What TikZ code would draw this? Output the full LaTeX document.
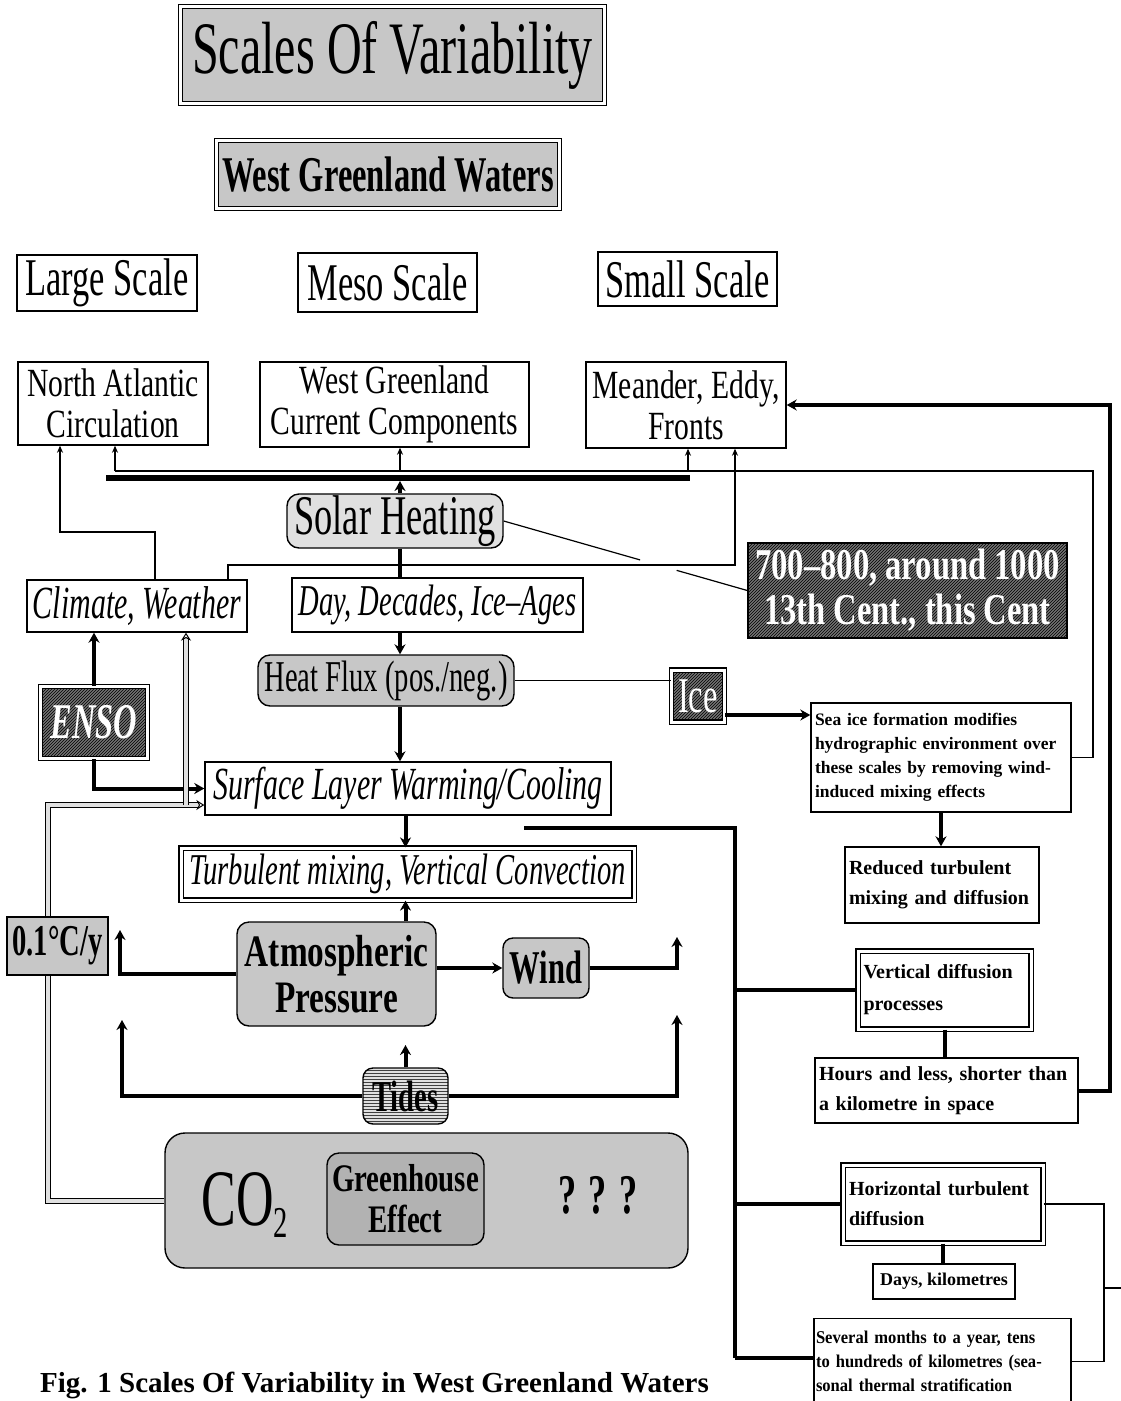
\documentclass[tikz,border=0pt]{standalone}
\usepackage{fontspec}
\setmainfont{Liberation Serif}
\newfontfamily\cf[FakeStretch=0.65]{Liberation Serif}
\newfontfamily\cg[FakeStretch=0.74]{Liberation Serif}
\newfontfamily\rf{Liberation Serif}
\newfontfamily\rh[FakeStretch=0.92]{Liberation Serif}
\usetikzlibrary{arrows.meta,patterns}
\newcommand\fsz[2]{\fontsize{#1}{#2}\selectfont}
\tikzset{
  box/.style={draw, line width=1.4pt, inner sep=0pt, align=center},
  dotbox/.style={box, fill=black!22},
  rbox/.style={dotbox, rounded corners=12pt},
  dbl/.style={draw, line width=1.2pt, double=white, double distance=3pt, inner sep=0pt, align=center},
  hatch/.style={preaction={fill=black!55}, pattern=north east lines, pattern color=black},
  thk/.style={line width=4pt},
  thkarr/.style={thk, -{Stealth[length=10pt,width=11pt]}},
  thn/.style={line width=1.2pt},
  thnarr/.style={thn, -{Stealth[length=7pt,width=6pt]}},
  pipe/.style={draw=black, line width=1pt, double=black!12, double distance=4pt},
  pipearr/.style={pipe, -{Stealth[length=8pt,width=10pt,open]}},
  bar/.style={line width=6pt},
  rtext/.style={align=left}
}
\begin{document}
\begin{tikzpicture}[x=1pt,y=-1pt]
\fill[white] (0,0) rectangle (1120,1401);
\useasboundingbox (0,0) rectangle (1120,1401);

% ---- titles
\node[dbl, fill=black!22, minimum width=424, minimum height=97, font=\cf\fsz{74}{74}] (title) at (392.5,55) {Scales Of Variability};
\node[dbl, fill=black!22, minimum width=343, minimum height=68, font=\cf\bfseries\fsz{50}{50}] (wgw) at (388,174.5) {West Greenland Waters};

\node[box, minimum width=180, minimum height=56, font=\cf\fsz{53}{53}] (large) at (107,283) {Large Scale};
\node[box, minimum width=179, minimum height=59, font=\cf\fsz{53}{53}] (meso) at (387.5,282.5) {Meso Scale};
\node[box, minimum width=179, minimum height=54, font=\cf\fsz{53}{53}] (small) at (687.5,279) {Small Scale};

% ---- scale boxes
\node[box, minimum width=190, minimum height=83, font=\cg\fsz{40}{41}] (na) at (113,403.5) {North Atlantic\\Circulation};
\node[box, minimum width=269, minimum height=85, font=\cg\fsz{40}{41}] (wgc) at (394.5,404.5) {West Greenland\\Current Components};
\node[box, minimum width=200, minimum height=86, font=\cg\fsz{40}{41}] (mef) at (686,405) {Meander, Eddy,\\Fronts};

% ---- middle column
\node[box, rounded corners=12pt, fill=black!12, minimum width=216, minimum height=54, font=\cf\fsz{56}{56}] (solar) at (395,521) {Solar Heating};
\node[box, minimum width=220, minimum height=52, font=\cf\itshape\fsz{46}{46}] (climate) at (137,606) {Climate, Weather};
\node[box, minimum width=291, minimum height=54, font=\cf\itshape\fsz{44}{44}] (day) at (437.5,605) {Day, Decades, Ice–Ages};
\node[box, hatch, minimum width=319, minimum height=95, text=white, font=\cg\bfseries\fsz{44}{45}] (cent) at (907.5,590.5) {700–800, around 1000\\13th Cent., this Cent};
\node[rbox, minimum width=256, minimum height=51, font=\cf\fsz{44}{44}] (heat) at (386,680.5) {Heat Flux (pos./neg.)};
\node[dbl, hatch, minimum width=53, minimum height=52, text=white, font=\cf\fsz{50}{50}] (ice) at (698,696) {Ice};
\node[dbl, hatch, minimum width=107, minimum height=72, text=white, font=\cf\bfseries\itshape\fsz{50}{50}] (enso) at (94,722.5) {ENSO};
\node[box, minimum width=260, minimum height=109, text width=252, rtext, font=\rf\bfseries\fsz{17.5}{24}] (seaice) at (941,757.5) {Sea ice formation modifies\\hydrographic environment over\\these scales by removing wind-\\induced mixing effects};
\node[box, minimum width=406, minimum height=53, font=\cf\itshape\fsz{46}{46}] (surface) at (408,788.5) {Surface Layer Warming/Cooling};
\node[dbl, minimum width=453, minimum height=52, font=\cf\itshape\fsz{44}{44}] (turb) at (407.5,874) {Turbulent mixing, Vertical Convection};
\node[box, minimum width=194, minimum height=76, text width=186, rtext, font=\rf\bfseries\fsz{20}{30}] (reduced) at (942,885) {Reduced turbulent\\mixing and diffusion};
\node[rbox, minimum width=199, minimum height=104, font=\cg\bfseries\fsz{45}{46}] (atmos) at (336.5,974) {Atmospheric\\Pressure};
\node[rbox, rounded corners=10pt, minimum width=86, minimum height=60, font=\cf\bfseries\fsz{47}{47}] (wind) at (546,968) {Wind};
\node[dbl, minimum width=173, minimum height=78, text width=162, rtext, font=\rf\bfseries\fsz{20}{32}] (vdiff) at (944.5,990) {Vertical diffusion\\processes};
\node[box, minimum width=263, minimum height=65, text width=255, rtext, font=\rf\bfseries\fsz{20}{30}] (hours) at (946.5,1090.5) {Hours and less, shorter than\\a kilometre in space};
\node[box, rounded corners=10pt, preaction={fill=black!12}, pattern=horizontal lines, pattern color=black!75, minimum width=85, minimum height=56, font=\cf\bfseries\fsz{44}{44}] (tides) at (405.5,1096) {Tides};
\node[rbox, rounded corners=20pt, minimum width=523, minimum height=135] (co2box) at (426.5,1200.5) {};
\node[font=\cf\fsz{80}{80}] (co2) at (245,1205) {CO\raisebox{-0.35ex}{\fsz{44}{44}2}};
\node[rbox, fill=black!30, minimum width=157, minimum height=92, font=\cg\bfseries\fsz{39}{41}] (ghe) at (405.5,1199) {Greenhouse\\Effect};
\node[font=\cf\bfseries\fsz{56}{56}] (qqq) at (598,1195) {? ? ?};
\node[dbl, minimum width=200, minimum height=78, text width=188, rtext, font=\rf\bfseries\fsz{20}{30}] (hdiff) at (943,1204) {Horizontal turbulent\\diffusion};
\node[box, minimum width=142, minimum height=35, font=\rf\bfseries\fsz{18}{18}] (days) at (944,1281.5) {Days, kilometres};
\node[box, anchor=north, minimum width=257, minimum height=86, text width=253, rtext, font=\rh\bfseries\fsz{18}{24}] (sev) at (942.5,1318) {Several months to a year, tens\\to hundreds of kilometres (sea-\\sonal thermal stratification};

% ---- coordinates
\coordinate (jL) at (115,471);
\coordinate (jW) at (400,471);
\coordinate (jM) at (688,471);
\coordinate (jR) at (1093,471);
\coordinate (barL) at (106,478);
\coordinate (barR) at (690,478);
\coordinate (bW) at (400,481);
\coordinate (c1) at (155,532);
\coordinate (k60) at (60,532);
\coordinate (c2) at (228,565);
\coordinate (c3) at (735,565);
\coordinate (iaY) at (800,715);
\coordinate (px) at (48,805);
\coordinate (q186) at (186,805);
\coordinate (aL) at (120,930);
\coordinate (aR) at (677,937);
\coordinate (tL) at (122,1020);
\coordinate (tR) at (677,1015);
\coordinate (tA) at (405.5,1045);
\coordinate (s0) at (524,828);
\coordinate (s1) at (735,828);
\coordinate (sevY) at (735,1358);
\coordinate (rX) at (1110,0);
\coordinate (hX) at (1104,1288);
\coordinate (edge) at (1125,1288);

% ---- top connectors
\draw[bar] (barL) -- (barR);
\draw[thn] (seaice.east) -| (jR) -- (jL);
\draw[thnarr] (jL) -- (jL |- na.south);
\draw[thnarr] (jW) -- (jW |- wgc.south);
\draw[thnarr] (jM) -- (jM |- mef.south);
\draw[thkarr] (solar.north -| jW) -- (bW);
\draw[thnarr] (climate.north -| c1) -- (c1) -- (k60) -- (k60 |- na.south);
\draw[thnarr] (climate.north -| c2) -- (c2) -- (c3) -- (c3 |- mef.south);
\path (solar.east) -- (cent.west) coordinate[pos=0.56] (g1) coordinate[pos=0.71] (g2);
\draw[thn] (solar.east) -- (g1);
\draw[thn] (g2) -- (cent.west);

% ---- central chain
\draw[thk] (solar.south -| jW) -- (day.north -| jW);
\draw[thkarr] (day.south -| jW) -- (heat.north -| jW);
\draw[thkarr] (heat.south -| jW) -- (surface.north -| jW);
\draw[thkarr] (surface.south -| tA) -- (turb.north -| tA);
\draw[thkarr] (atmos.north -| tA) -- (turb.south -| tA);
\draw[thn] (heat.east) -- (heat.east -| ice.west);
\draw[thkarr] (ice.east |- iaY) -- (seaice.west |- iaY);
\draw[thkarr] (enso.north) -- (enso.north |- climate.south);
\draw[thkarr] (enso.south) |- (surface.west);

% ---- pipes
\draw[pipearr] (co2box.west) -- (co2box.west -| px) -- (px) -- (surface.west |- px);
\draw[pipearr] (q186) -- (q186 |- climate.south);
\node[box, fill=black!22, minimum width=101, minimum height=58, font=\cf\bfseries\fsz{44}{44}] (c01) at (57.5,946) {0.1°C/y};

% ---- atmosphere / wind / tides
\draw[thkarr] (atmos.west) -| (aL);
\draw[thkarr] (atmos.east |- wind.west) -- (wind.west);
\draw[thkarr] (wind.east) -| (aR);
\draw[thkarr] (tides.west) -| (tL);
\draw[thkarr] (tides.east) -| (tR);
\draw[thkarr] (tides.north) -- (tA);

% ---- right side
\draw[thk] (s0) -- (s1) -- (sevY);
\draw[thk] (s1 |- vdiff.west) -- (vdiff.west);
\draw[thk] (s1 |- hdiff.west) -- (hdiff.west);
\draw[thk] (sevY) -- (sev.west |- sevY);
\draw[thkarr] (seaice.south) -- (seaice.south |- reduced.north);
\draw[thk] (vdiff.south) -- (vdiff.south |- hours.north);
\draw[thkarr] (hours.east) -| (rX |- mef.east) -- (mef.east);
\draw[thk] (hdiff.south) -- (hdiff.south |- days.north);
\draw[thn] (hdiff.east) -- (hdiff.east -| hX) -- (hX |- sev.east) -- (sev.east);
\draw[thn] (hX) -- (edge);

% ---- caption
\node[anchor=base west, inner sep=0pt, font=\rf\bfseries\fsz{29}{29}] (cap) at (40,1392) {Fig. 1 Scales Of Variability in West Greenland Waters};
\end{tikzpicture}
\end{document}
